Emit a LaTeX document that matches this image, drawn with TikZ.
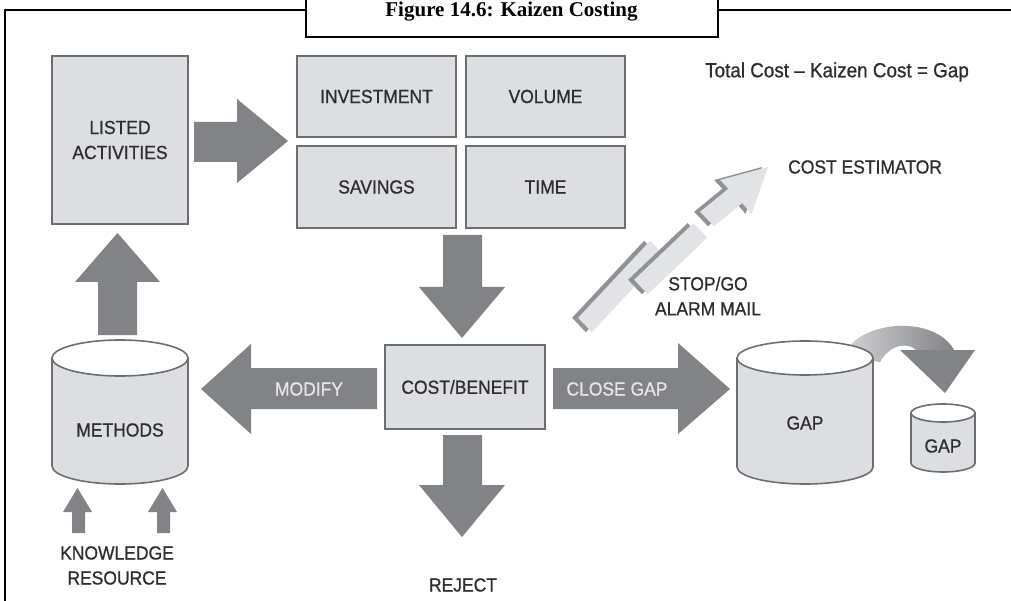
\documentclass[tikz,border=0pt]{standalone}
\usepackage{fontspec}
\setmainfont{Liberation Sans}
\newfontfamily\lblfont{Liberation Sans}[FakeBold=0.8, FakeStretch=0.92]
\newfontfamily\titlefont{Liberation Serif}
\definecolor{boxfill}{HTML}{DCDEE1}
\definecolor{boxline}{HTML}{6D6E71}
\definecolor{arrowgray}{HTML}{818386}
\definecolor{txt}{HTML}{2E2E32}
\definecolor{bolt}{HTML}{E2E3E5}
\definecolor{boltdark}{HTML}{909295}
\definecolor{lighttxt}{HTML}{E6E6E6}
\tikzset{
  box/.style={draw=boxline, line width=1.6pt, fill=boxfill, text=txt,
    font=\lblfont\fontsize{19}{25}\selectfont, align=center, inner sep=0pt},
  blk/.style={fill=arrowgray},
  lbl/.style={text=txt, font=\lblfont\fontsize{19}{25}\selectfont, align=center, inner sep=0pt},
  wlbl/.style={text=lighttxt, font=\lblfont\fontsize{19}{25}\selectfont, inner sep=0pt},
  cylbody/.style={draw=boxline, line width=1.6pt, fill=boxfill},
  cyltop/.style={draw=boxline, line width=1.6pt, fill=white},
  boltpiece/.style={fill=bolt},
  boltside/.style={fill=boltdark},
  frame/.style={line width=2.6pt, draw=black},
  titlebox/.style={draw, line width=2pt, fill=white, minimum width=412pt, minimum height=50pt, inner sep=0pt},
  titletext/.style={inner sep=0pt, font=\titlefont\bfseries\fontsize{21}{24}\selectfont}
}
\begin{document}
\begin{tikzpicture}[x=1pt,y=-1pt]
\useasboundingbox (0,0) rectangle (1011,601);
\fill[white] (0,0) rectangle (1011,601);
% frame
\draw[frame] (5,601) -- (5,10) -- (306,10);
\draw[frame] (717,10) -- (1011,10);
\node[titlebox] (title) at (511.5,12) {};
\node[titletext] (titlelbl) at (title.center) {Figure 14.6: Kaizen Costing};

% boxes
\node[box, minimum width=136pt, minimum height=168pt] (listed) at (120,140) {LISTED\\ACTIVITIES};
\node[box, minimum width=159pt, minimum height=81pt] (inv) at (376.5,96.5) {INVESTMENT};
\node[box, minimum width=159pt, minimum height=81pt] (vol) at (545.5,96.5) {VOLUME};
\node[box, minimum width=159pt, minimum height=82pt] (sav) at (376.5,187) {SAVINGS};
\node[box, minimum width=159pt, minimum height=82pt] (time) at (545.5,187) {TIME};
\node[box, minimum width=160pt, minimum height=84pt] (cb) at (465,387) {COST/BENEFIT};

% block arrows
\fill[blk] (194,122) -- (237,122) -- (237,99) -- (288,141) -- (237,183) -- (237,162) -- (194,162) -- cycle;
\fill[blk] (98,335) -- (98,282) -- (75,282) -- (117.5,233) -- (160,282) -- (137,282) -- (137,335) -- cycle;
\fill[blk] (443,235) -- (482,235) -- (482,287) -- (505,287) -- (462,338) -- (419,287) -- (443,287) -- cycle;
\fill[blk] (443,435) -- (482,435) -- (482,485) -- (505,485) -- (462,537) -- (419,485) -- (443,485) -- cycle;
\fill[blk] (377,368) -- (251,368) -- (251,344) -- (201,389) -- (251,434) -- (251,409) -- (377,409) -- cycle;
\fill[blk] (553,368) -- (678,368) -- (678,343) -- (730,389) -- (678,434) -- (678,409) -- (553,409) -- cycle;
\fill[blk] (72,533) -- (72,512) -- (63,512) -- (77.5,488) -- (92,512) -- (85,512) -- (85,533) -- cycle;
\fill[blk] (157,533) -- (157,512) -- (148,512) -- (162.5,488) -- (177,512) -- (170,512) -- (170,533) -- cycle;

\node[wlbl] (modify) at (309,389) {MODIFY};
\node[wlbl] (closegap) at (617,389) {CLOSE GAP};

% curved arrow (behind big cylinder)
\shade[left color=boxline!30, right color=arrowgray]
  (843,356) .. controls (858,320) and (934,314) .. (954,350) -- (916,350)
  .. controls (908,342) and (890,344) .. (880,362) -- cycle;
\fill[blk] (900,350) -- (975,350) -- (945,393) -- cycle;

% methods cylinder
\draw[cylbody] (52,358) -- (52,466) arc[start angle=180, end angle=0, x radius=68, y radius=18] -- (188,358) -- cycle;
\draw[cyltop] (120,358) ellipse[x radius=68, y radius=18];
\node[lbl] (methods) at (120,430) {METHODS};

% big gap cylinder
\draw[cylbody] (737,358) -- (737,467) arc[start angle=180, end angle=0, x radius=68, y radius=17] -- (873,358) -- cycle;
\draw[cyltop] (805,358) ellipse[x radius=68, y radius=17];
\node[lbl] (gapbig) at (805,423) {GAP};

% small gap cylinder
\draw[cylbody] (911,413) -- (911,463) arc[start angle=180, end angle=0, x radius=32, y radius=9] -- (975,413) -- cycle;
\draw[cyltop] (943,413) ellipse[x radius=32, y radius=9];
\node[lbl] (gapsmall) at (943,446) {GAP};

% lightning arrow
\begin{scope}[shift={(-6,0)}]
\fill[boltside] (578.1,317.8) -- (650.1,240.8) -- (663.9,255.2) -- (591.9,332.2) -- cycle;
\end{scope}
\fill[boltpiece] (578.1,317.8) -- (650.1,240.8) -- (663.9,255.2) -- (591.9,332.2) -- cycle;
\begin{scope}[shift={(-6,0)}]
\fill[boltside] (634.1,279.8) -- (693.5,223.2) -- (707.3,237.6) -- (647.9,294.2) -- cycle;
\end{scope}
\fill[boltpiece] (634.1,279.8) -- (693.5,223.2) -- (707.3,237.6) -- (647.9,294.2) -- cycle;
\begin{scope}[shift={(-6,0)}]
\fill[boltside] (700.1,211.8) -- (728.4,188.7) -- (720.1,180) -- (768,167) -- (751.5,213.8) -- (742.2,203.1) -- (713.9,226.2) -- cycle;
\end{scope}
\fill[boltpiece] (700.1,211.8) -- (728.4,188.7) -- (720.1,180) -- (768,167) -- (751.5,213.8) -- (742.2,203.1) -- (713.9,226.2) -- cycle;

% labels
\node[lbl] (stopgo) at (708,296) {STOP/GO\\ALARM MAIL};
\node[lbl, anchor=west] (costest) at (788,167) {COST ESTIMATOR};
\node[lbl, font=\lblfont\fontsize{20.5}{25}\selectfont] (formula) at (837,72) {Total Cost – Kaizen Cost = Gap};
\node[lbl] (know) at (117,565.5) {KNOWLEDGE\\RESOURCE};
\node[lbl] (reject) at (463,585) {REJECT};
\end{tikzpicture}
\end{document}
